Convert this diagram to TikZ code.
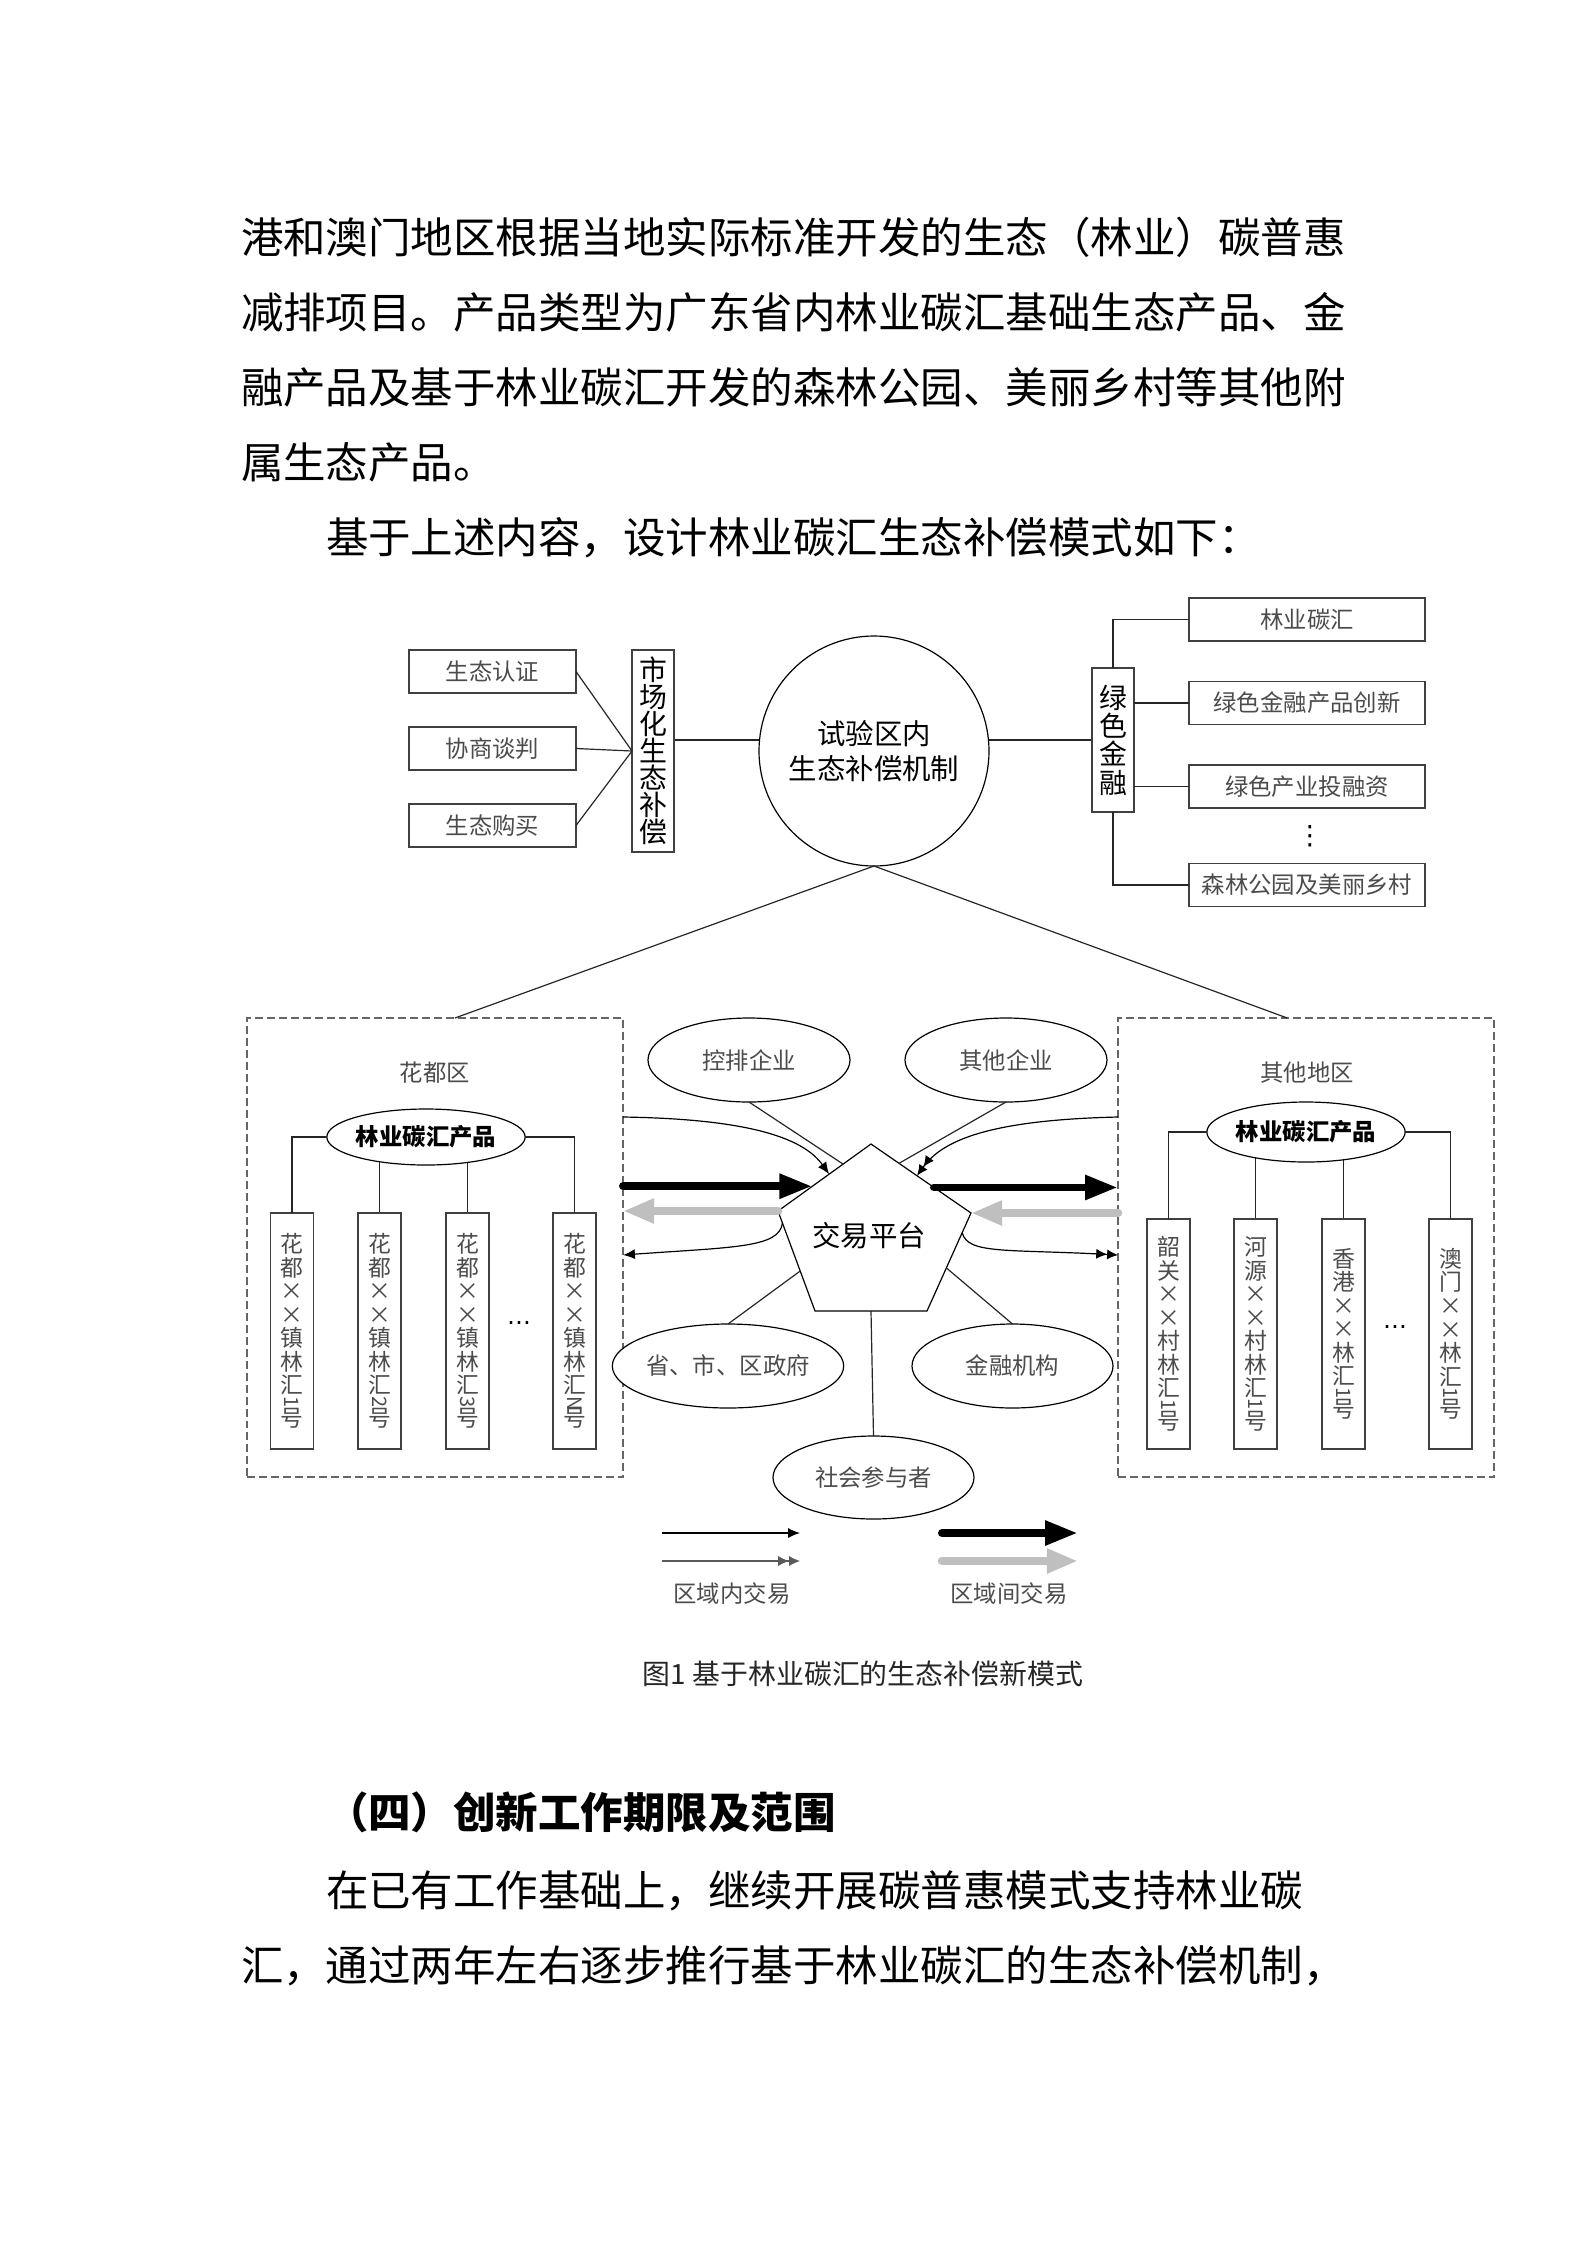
\documentclass[tikz,border=0pt]{standalone}
\usepackage{fontspec}
\usepackage{graphicx}
\usetikzlibrary{arrows.meta,calc,shapes.geometric}
\newfontfamily\cjk{Noto Sans CJK SC}
\newfontfamily\dejavu{DejaVu Sans}
\newdimen\px \px=0.37651pt
\newcommand\rdig[1]{\smash{\raisebox{5.3pt}{\fontsize{7.5}{8}\selectfont\rotatebox{-90}{#1}}}}
\newcommand\xx{×}
\pgfdeclarelayer{background}
\pgfsetlayers{background,main}
\tikzset{
  every node/.style={inner sep=0pt, outer sep=0pt},
  body/.style={anchor=base west, font=\cjk\fontsize{16}{20}\selectfont, text=black},
  conn/.style={draw=black!85, line width=0.45pt},
  rbox/.style={draw=black!75, line width=0.5pt, fill=white, minimum width=167*\px, minimum height=43*\px,
    font=\cjk\fontsize{8.8}{10}\selectfont, text=black!70},
  gbox/.style={rbox, minimum width=236*\px},
  vbox/.style={draw=black!75, line width=0.5pt, fill=white, align=center, minimum width=42*\px, text=black},
  tallbox/.style={draw=black!75, line width=0.5pt, fill=white, align=center, minimum width=43*\px,
    font=\cjk\fontsize{8.6}{8.85}\selectfont, text=black!70},
  ell/.style={ellipse, draw=black, line width=0.45pt, fill=white, font=\cjk\fontsize{8.8}{10}\selectfont, text=black!70},
  region/.style={draw=black!60, line width=0.5pt, dash pattern=on 3pt off 1.5pt},
  lbl/.style={font=\cjk\fontsize{8.8}{10}\selectfont, text=black!70},
  thinarr/.style={draw=black, line width=0.45pt, -{Latex[length=4.5pt,width=3.8pt]}},
  dblarr/.style={draw=black, line width=0.45pt, -{Latex[length=4.1pt,width=3.8pt]Latex[length=4.1pt,width=3.8pt]}},
  blkarr/.style={draw=black, line width=3pt, line cap=round, -{Triangle[length=12.4pt,width=8.7pt]}},
  gryarr/.style={draw=black!25, line width=3.2pt, line cap=round, -{Triangle[length=11.7pt,width=8.7pt]}}
}
\begin{document}
\begin{tikzpicture}[x=0.3751bp, y=-0.3751bp]
\begin{pgfonlayer}{background}
\fill[white] (0,0) rectangle (1587,2245);
\end{pgfonlayer}
\useasboundingbox (0,0) rectangle (1587,2245);

% ---------- body text ----------
\node[body] (l1) at (241,253) {港和澳门地区根据当地实际标准开发的生态（林业）碳普惠};
\node[body] (l2) at (241,328) {减排项目。产品类型为广东省内林业碳汇基础生态产品、金};
\node[body] (l3) at (241,403) {融产品及基于林业碳汇开发的森林公园、美丽乡村等其他附};
\node[body] (l4) at (241,478) {属生态产品。};
\node[body] (l5) at (326,553) {基于上述内容，设计林业碳汇生态补偿模式如下：};
\node[body, font=\cjk\bfseries\fontsize{16}{20}\selectfont] (hd) at (326,1828) {（四）创新工作期限及范围};
\node[body] (l6) at (326,1906) {在已有工作基础上，继续开展碳普惠模式支持林业碳};
\node[body] (l7) at (241,1981) {汇，通过两年左右逐步推行基于林业碳汇的生态补偿机制，};
\node[anchor=base, font=\cjk\fontsize{10.5}{12}\selectfont, text=black!85] (cap) at (863,1684) {图1 基于林业碳汇的生态补偿新模式};

% ---------- top part ----------
\node[rbox] (A1) at (492.5,671.5) {生态认证};
\node[rbox] (A2) at (492.5,748.5) {协商谈判};
\node[rbox] (A3) at (492.5,825.5) {生态购买};
\node[vbox, minimum height=202*\px, font=\cjk\fontsize{10.5}{10.2}\selectfont] (mkt) at (653,751) {市\\场\\化\\生\\态\\补\\偿};
\node[circle, draw=black, line width=0.45pt, fill=white, minimum size=230*\px, align=center,
      font=\cjk\fontsize{10.7}{13.2}\selectfont] (C) at (874,751) {试验区内\\生态补偿机制};
\node[vbox, minimum height=144*\px, font=\cjk\fontsize{10.5}{10.65}\selectfont] (G) at (1113,740) {绿\\色\\金\\融};
\node[gbox] (R1) at (1307,619.5) {林业碳汇};
\node[gbox] (R2) at (1307,703) {绿色金融产品创新};
\node[gbox] (R3) at (1307,786.5) {绿色产业投融资};
\node[gbox] (R4) at (1307,885) {森林公园及美丽乡村};
\node[font=\dejavu\fontsize{10}{10}\selectfont] (vd) at (1310,836) {⋮};

\draw[conn] (A1.east) -- (mkt.west);
\draw[conn] (A2.east) -- (mkt.west);
\draw[conn] (A3.east) -- (mkt.west);
\coordinate (hl) at (0,740);
\draw[conn] (G.north) |- (R1.west);
\draw[conn] (G.east |- R2.west) -- (R2.west);
\draw[conn] (G.east |- R3.west) -- (R3.west);
\draw[conn] (G.south) |- (R4.west);

% ---------- regions ----------
\node[region, minimum width=376*\px, minimum height=459*\px] (Lreg) at (435,1247.5) {};
\node[region, minimum width=376*\px, minimum height=459*\px] (Rreg) at (1306,1247.5) {};
\node[lbl] (t1) at (435,1073) {花都区};
\node[lbl] (t2) at (1307,1073) {其他地区};
\coordinate (lt) at ($(Lreg.north west)!0.553!(Lreg.north east)$);
\coordinate (rt) at ($(Rreg.north west)!0.45!(Rreg.north east)$);
\draw[conn] (C.south) -- (lt);
\draw[conn] (C.south) -- (rt);

\node[ell, minimum width=196*\px, minimum height=56*\px, text=black, font=\cjk\bfseries\fontsize{8.8}{10}\selectfont] (E1) at (426,1137) {林业碳汇产品};
\node[ell, minimum width=196*\px, minimum height=60*\px, text=black, font=\cjk\bfseries\fontsize{8.8}{10}\selectfont] (E2) at (1306,1132) {林业碳汇产品};

\node[tallbox, minimum height=236*\px] (b1) at (292,1331) {花\\都\\\xx\\\xx\\镇\\林\\汇\\[-2.65pt]\rdig{1}\\[-2.65pt]号};
\node[tallbox, minimum height=236*\px] (b2) at (379.5,1331) {花\\都\\\xx\\\xx\\镇\\林\\汇\\[-2.65pt]\rdig{2}\\[-2.65pt]号};
\node[tallbox, minimum height=236*\px] (b3) at (467.5,1331) {花\\都\\\xx\\\xx\\镇\\林\\汇\\[-2.65pt]\rdig{3}\\[-2.65pt]号};
\node[tallbox, minimum height=236*\px] (b4) at (574.5,1331) {花\\都\\\xx\\\xx\\镇\\林\\汇\\[-2.65pt]\rdig{N}\\[-2.65pt]号};
\node[font=\dejavu\fontsize{9}{10}\selectfont] (dl) at (519,1323) {…};

\node[tallbox, minimum height=230*\px] (c1) at (1168.5,1334) {韶\\关\\\xx\\\xx\\村\\林\\汇\\[-2.65pt]\rdig{1}\\[-2.65pt]号};
\node[tallbox, minimum height=230*\px] (c2) at (1255.5,1334) {河\\源\\\xx\\\xx\\村\\林\\汇\\[-2.65pt]\rdig{1}\\[-2.65pt]号};
\node[tallbox, minimum height=230*\px] (c3) at (1343.5,1334) {香\\港\\\xx\\\xx\\林\\汇\\[-2.65pt]\rdig{1}\\[-2.65pt]号};
\node[tallbox, minimum height=230*\px] (c4) at (1450.5,1334) {澳\\门\\\xx\\\xx\\林\\汇\\[-2.65pt]\rdig{1}\\[-2.65pt]号};
\node[font=\dejavu\fontsize{9}{10}\selectfont] (dr) at (1395,1327) {…};

\draw[conn] (E1.west) -| (b1.north);
\draw[conn] (E1.east) -| (b4.north);
\draw[conn] (E2.west) -| (c1.north);
\draw[conn] (E2.east) -| (c4.north);

% ---------- middle ----------
\node[ell, minimum width=202*\px, minimum height=84*\px] (K) at (749,1060) {控排企业};
\node[ell, minimum width=202*\px, minimum height=84*\px] (Q) at (1006,1060) {其他企业};
\node[ell, minimum width=200*\px, minimum height=84*\px] (Gv) at (728,1366) {省、市、区政府};
\node[ell, minimum width=201*\px, minimum height=84*\px] (F) at (1012.5,1366) {金融机构};
\node[ell, minimum width=201*\px, minimum height=83*\px] (S) at (873.5,1477.5) {社会参与者};

\coordinate (p1) at (871,1144);
\coordinate (p2) at (778,1211);
\coordinate (p3) at (815,1311);
\coordinate (p4) at (927,1311);
\coordinate (p5) at (971,1213);
\draw[draw=black, line width=0.45pt, fill=white] (p1) -- (p2) -- (p3) -- (p4) -- (p5) -- cycle;
\node[font=\cjk\fontsize{10.7}{12}\selectfont, text=black] (P) at (869,1236) {交易平台};

\draw[conn] (K.south) -- ($(p1)!0.3!(p2)$);
\draw[conn] (Q.south) -- ($(p1)!0.28!(p5)$);
\draw[conn] ($(p2)!0.6!(p3)$) -- (Gv.north);
\draw[conn] ($(p5)!0.56!(p4)$) -- (F.north);
\draw[conn] ($(p3)!0.5!(p4)$) -- (S.north);

% trade arrows
\coordinate (ya) at (0,1117);
\coordinate (yb) at (0,1255);
\coordinate (la1) at ($(p1)!0.45!(p2)$);
\coordinate (ra1) at ($(p1)!0.46!(p5)$);
\coordinate (lb1) at ($(p2)!0.12!(p3)$);
\coordinate (rb1) at ($(p5)!0.2!(p4)$);
\draw[thinarr] (Lreg.east |- ya) .. controls +(130,2) and +(-25,-35) .. (la1);
\draw[dblarr] (Rreg.west |- ya) .. controls +(-130,3) and +(25,-35) .. (ra1);
\draw[thinarr] (lb1) .. controls +(-3,25) and +(110,-8) .. (Lreg.east |- yb);
\draw[dblarr] (rb1) .. controls +(5,22) and +(-110,-6) .. (Rreg.west |- yb);

\coordinate (bl) at ($(p1)!0.63!(p2)$);
\coordinate (br) at ($(p1)!0.63!(p5)$);
\draw[blkarr] (Lreg.east |- bl) -- (bl);
\draw[gryarr] (p2) -- (Lreg.east |- p2);
\draw[blkarr] (br) -- (Rreg.west |- br);
\draw[gryarr] (Rreg.west |- p5) -- (p5);

% legend
\coordinate (g1a) at (662,1533); \coordinate (g1b) at (800,1533);
\coordinate (g2a) at (662,1561); \coordinate (g2b) at (800,1561);
\coordinate (g3a) at (942,1533); \coordinate (g3b) at (1078,1533);
\coordinate (g4a) at (942,1561); \coordinate (g4b) at (1078,1561);
\draw[thinarr] (g1a) -- (g1b);
\draw[dblarr, draw=black!65] (g2a) -- (g2b);
\draw[blkarr] (g3a) -- (g3b);
\draw[gryarr] (g4a) -- (g4b);
\node[lbl] (lg1) at (732,1594) {区域内交易};
\node[lbl] (lg2) at (1009,1594) {区域间交易};

% connectors hidden behind filled nodes
\begin{pgfonlayer}{background}
\draw[conn] (mkt.east |- hl) -- (C.center |- hl);
\draw[conn] (C.center |- hl) -- (G.west);
\draw[conn] (b2.north) -- (b2.north |- E1.center);
\draw[conn] (b3.north) -- (b3.north |- E1.center);
\draw[conn] (c2.north) -- (c2.north |- E2.center);
\draw[conn] (c3.north) -- (c3.north |- E2.center);
\end{pgfonlayer}
\end{tikzpicture}
\end{document}
